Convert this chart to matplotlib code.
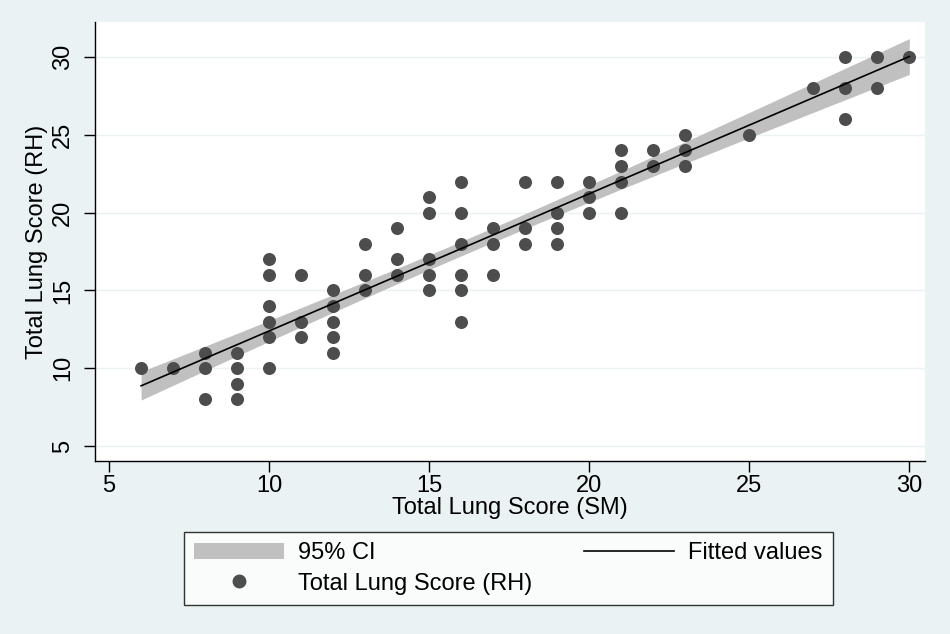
import numpy as np
import matplotlib
matplotlib.use("Agg")
import matplotlib.pyplot as plt
from matplotlib.patches import Patch
from matplotlib.lines import Line2D

plt.rcParams['font.family'] = ['Liberation Sans', 'DejaVu Sans']

sm = [6, 7,
      8, 8, 8,
      9, 9, 9, 9,
      10, 10, 10, 10, 10, 10,
      11, 11, 11,
      12, 12, 12, 12, 12,
      13, 13, 13,
      14, 14, 14,
      15, 15, 15, 15, 15,
      16, 16, 16, 16, 16, 16,
      17, 17, 17,
      18, 18, 18,
      19, 19, 19, 19,
      20, 20, 20,
      21, 21, 21, 21,
      22, 22,
      23, 23, 23,
      25, 27,
      28, 28, 28,
      29, 29,
      30]
rh = [10, 10,
      11, 10, 8,
      11, 10, 9, 8,
      17, 16, 14, 13, 12, 10,
      16, 13, 12,
      15, 14, 13, 12, 11,
      18, 16, 15,
      19, 17, 16,
      21, 20, 17, 16, 15,
      22, 20, 18, 16, 15, 13,
      19, 18, 16,
      22, 19, 18,
      22, 20, 19, 18,
      22, 21, 20,
      24, 23, 22, 20,
      24, 23,
      25, 24, 23,
      25, 28,
      30, 28, 26,
      30, 28,
      30]

xticks = [5, 10, 15, 20, 25, 30]
yticks = [5, 10, 15, 20, 25, 30]

x = np.array(sm, dtype=float)
y = np.array(rh, dtype=float)
n = len(x)
b, a = np.polyfit(x, y, 1)
resid = y - (a + b * x)
s = np.sqrt(np.sum(resid ** 2) / (n - 2))
sxx = np.sum((x - x.mean()) ** 2)
xs = np.unique(x)
fit = a + b * xs
se = s * np.sqrt(1.0 / n + (xs - x.mean()) ** 2 / sxx)
tcrit = 1.994  # t(0.975, ~70 df)

bg = '#eaf2f3'
fs = 17
fig = plt.figure(figsize=(9.5, 6.34), dpi=100, facecolor=bg)
ax = fig.add_axes([0.1, 0.273, 0.874, 0.692])
ax.set_facecolor('white')

ax.fill_between(xs, fit - tcrit * se, fit + tcrit * se, color='#c0c0c0', lw=0, zorder=2)
ax.scatter(x, y, s=88, color='#4d4d4d', zorder=3, linewidths=0)
ax.plot(xs, fit, color='black', lw=1.2, zorder=4)

ax.set_xlim(4.56, 30.5)
ax.set_ylim(4.04, 32.25)
ax.set_xticks(xticks)
ax.set_yticks(yticks)
ax.grid(axis='y', color=bg, lw=1.0, zorder=0)
ax.set_axisbelow(True)
for sp in ['top', 'right']:
    ax.spines[sp].set_visible(False)
for sp in ['left', 'bottom']:
    ax.spines[sp].set_color('black')
    ax.spines[sp].set_linewidth(1.0)
ax.tick_params(labelsize=fs, length=8, width=1.0, color='black')
ax.tick_params(axis='x', pad=2)
ax.tick_params(axis='y', pad=7)
plt.setp(ax.get_yticklabels(), rotation=90, va='center')
ax.set_xlabel('Total Lung Score (SM)', fontsize=fs, labelpad=0)
ax.set_ylabel('Total Lung Score (RH)', fontsize=fs, labelpad=3)

handles = [Patch(facecolor='#c0c0c0', edgecolor='none', label='95% CI'),
           Line2D([], [], marker='o', ls='none', color='#4d4d4d', markersize=9,
                  label='Total Lung Score (RH)'),
           Line2D([], [], color='black', lw=1.2, label='Fitted values')]
leg = fig.legend(handles=handles, ncol=2, loc='center',
                 bbox_to_anchor=(0.5353, 0.1035), frameon=True, fancybox=False,
                 fontsize=fs, columnspacing=2.2, handlelength=3.8,
                 handletextpad=0.6, labelspacing=0.35,
                 borderpad=0.45, edgecolor='black')
leg.get_frame().set_linewidth(1.0)

fig.savefig('out.png', dpi=100, facecolor=bg)
